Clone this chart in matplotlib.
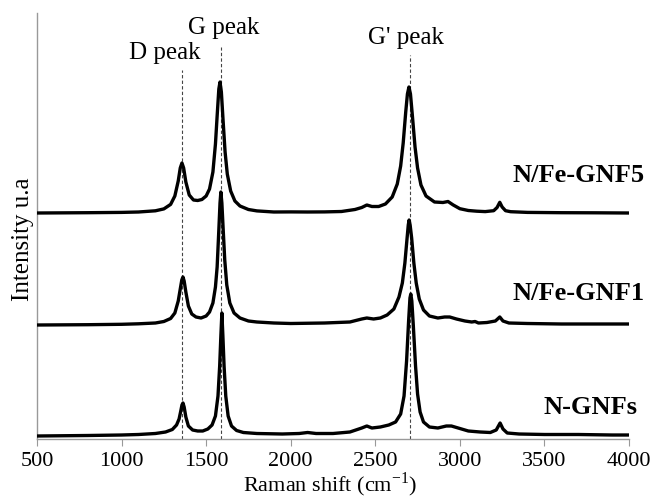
import numpy as np
import matplotlib
matplotlib.use("Agg")
import matplotlib.pyplot as plt

plt.rcParams['font.family'] = ['Liberation Serif', 'DejaVu Serif']
plt.rcParams['mathtext.fontset'] = 'custom'
plt.rcParams['mathtext.rm'] = 'Liberation Serif'

# Raman spectra (intensity above each baseline, arbitrary units)
x_gnf5 = [500, 800, 1000, 1100, 1200, 1250, 1290, 1315, 1335, 1347, 1357, 1367, 1380, 1400,
          1425, 1450, 1475, 1500, 1520, 1540, 1555, 1565, 1575, 1582, 1590, 1600, 1612, 1625,
          1645, 1670, 1700, 1750, 1800, 1900, 2000, 2100, 2200, 2300, 2380, 2420, 2450, 2480,
          2520, 2560, 2600, 2630, 2650, 2665, 2680, 2690, 2699, 2708, 2720, 2735, 2750, 2770,
          2800, 2850, 2900, 2930, 2960, 3000, 3050, 3100, 3150, 3200, 3220, 3236, 3250, 3270,
          3300, 3400, 3600, 3800, 4000]
y_gnf5 = [0, 0.3, 0.6, 1, 2.2, 4.1, 8.6, 17, 32, 45, 50, 45, 31, 18,
          13, 12.5, 13.5, 17, 24, 41, 69, 97, 124, 131, 121, 93, 61, 39,
          22, 12, 7, 3.5, 2.1, 1, 1.1, 1, 1.1, 1.5, 3.5, 5.5, 8, 6.5,
          6.5, 9, 16, 29, 47, 70, 101, 119, 126, 119, 96, 66, 45, 28,
          17, 11, 10.5, 11.5, 8.1, 4.3, 2.5, 1.8, 1.4, 2.3, 5.5, 10.7, 6, 2.3,
          1.3, 0.6, 0.3, 0.2, 0]

x_gnf1 = [500, 800, 1000, 1100, 1200, 1250, 1290, 1315, 1335, 1348, 1356, 1363, 1370, 1380,
          1395, 1415, 1440, 1470, 1500, 1520, 1540, 1555, 1565, 1575, 1582, 1587, 1593, 1600,
          1610, 1622, 1640, 1665, 1700, 1750, 1800, 1900, 2000, 2200, 2350, 2420, 2450, 2490,
          2530, 2570, 2610, 2640, 2660, 2675, 2687, 2695, 2700, 2706, 2715, 2728, 2742, 2760,
          2785, 2820, 2870, 2910, 2940, 2980, 3030, 3070, 3090, 3110, 3160, 3210, 3236, 3255,
          3290, 3400, 3600, 3800, 4000]
y_gnf1 = [0, 0.3, 0.7, 1.2, 2, 3.5, 6.5, 12, 24, 37, 45, 48, 44, 33,
          19, 11, 8, 7, 9, 13, 22, 38, 58, 95, 122, 133, 122, 98,
          65, 40, 22, 12, 7, 4, 3, 2, 1.5, 2, 3, 6, 7, 6,
          7, 10, 16, 28, 42, 62, 85, 100, 105, 100, 87, 62, 42, 26,
          15, 9, 7, 8, 8, 6, 4, 3, 3.5, 2, 2.5, 4, 8, 4,
          2, 1.5, 1, 1, 1]

x_ngnf = [500, 800, 1000, 1100, 1200, 1260, 1300, 1325, 1340, 1350, 1357, 1363, 1370, 1380,
          1395, 1420, 1450, 1480, 1510, 1535, 1555, 1570, 1580, 1587, 1593, 1599, 1606, 1616,
          1630, 1650, 1680, 1720, 1800, 1950, 2050, 2100, 2150, 2250, 2350, 2420, 2450, 2480,
          2530, 2580, 2620, 2650, 2670, 2685, 2697, 2705, 2710, 2716, 2725, 2738, 2750, 2765,
          2785, 2820, 2870, 2920, 2950, 2990, 3050, 3120, 3180, 3215, 3238, 3255, 3280, 3350,
          3500, 3700, 3900, 4000]
y_ngnf = [0, 0.5, 1, 1.5, 2.5, 4, 6.5, 11, 17, 25, 31, 33, 29, 19,
          10, 6, 5, 5, 7, 11, 20, 40, 70, 100, 123, 100, 70, 40,
          20, 10, 5.5, 3.5, 2.5, 2, 2.5, 3.5, 2.5, 2.5, 4, 8, 10, 8,
          9, 11, 14, 22, 40, 75, 115, 138, 142, 135, 110, 70, 42, 24,
          14, 9, 8, 10, 10, 8, 5, 4, 3.5, 6, 13, 7, 3, 2,
          1.5, 1.5, 1, 1]

names = ['N/Fe-GNF5', 'N/Fe-GNF1', 'N-GNFs']
peak_names = ['D peak', 'G peak', "G' peak"]
peak_pos = [1360, 1590, 2705]
xticks = [500, 1000, 1500, 2000, 2500, 3000, 3500, 4000]

offsets = [226, 114, 3]
series = [(x_gnf5, y_gnf5), (x_gnf1, y_gnf1), (x_ngnf, y_ngnf)]

fig = plt.figure(figsize=(6.53, 5.0), dpi=100)
ax = fig.add_axes([37/653, 1-439/500, (629-37)/653, (439-13)/500])

for (xs, ys), off in zip(series, offsets):
    ax.plot(xs, np.array(ys) + off, color='black', lw=2.4, solid_joinstyle='round', zorder=3)

dash_top = [369, 392, 384]
for p, top in zip(peak_pos, dash_top):
    ax.plot([p, p], [0, top], color='#444444', lw=0.8, ls=(0, (3, 2)), zorder=2)

ax.text(1258, 386, peak_names[0], fontsize=18, ha='center', va='center')
ax.text(1601, 411, peak_names[1], fontsize=18, ha='center', va='center')
ax.text(2683, 401, peak_names[2], fontsize=18, ha='center', va='center')

label_y = [264, 146, 32]
label_x = [4090, 4090, 4050]
for name, lx, ly in zip(names, label_x, label_y):
    ax.text(lx, ly, name, fontsize=19, fontweight='bold', ha='right', va='center')

ax.set_xlim(500, 4000)
ax.set_ylim(0, 426)
ax.set_xticks(xticks)
ax.set_yticks([])
for s in ['top', 'right']:
    ax.spines[s].set_visible(False)
for s in ['left', 'bottom']:
    ax.spines[s].set_color('#999999')
    ax.spines[s].set_linewidth(1.0)
ax.tick_params(axis='x', direction='out', length=5, color='#999999', labelsize=16, pad=4)
fig.text(330/653, 1/500, 'Raman shift (cm$^{-1}$)', fontsize=16, ha='center', va='bottom')
fig.text(23/653, 1-239/500, 'Intensity u.a', fontsize=18, rotation=90, ha='center', va='center')

fig.savefig('out.png', dpi=100)
